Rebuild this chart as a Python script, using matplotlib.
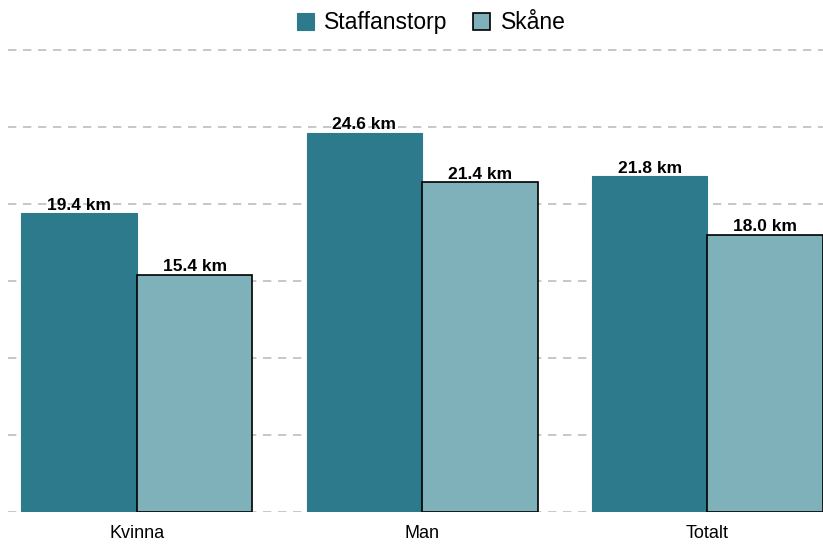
import matplotlib.pyplot as plt
import numpy as np

plt.rcParams["font.family"] = ["Liberation Sans", "DejaVu Sans"]

categories = ["Kvinna", "Man", "Totalt"]
staffanstorp = [19.4, 24.6, 21.8]
skane = [15.4, 21.4, 18.0]
series_names = ["Staffanstorp", "Skåne"]
y_grid = [0, 5, 10, 15, 20, 25, 30]

col_staff = "#2e7a8d"
col_skane = "#7fb1ba"

fig = plt.figure(figsize=(8.23, 5.44), dpi=100)
ax = fig.add_axes([0.0097, 0.0588, 0.9903, 0.852])

x = np.arange(len(categories))
w = 0.405

b1 = ax.bar(x - w / 2, staffanstorp, w, color=col_staff, edgecolor=col_staff,
            linewidth=0.8, label=series_names[0], zorder=3)
b2 = ax.bar(x + w / 2, skane, w, color=col_skane, edgecolor="black",
            linewidth=1.2, label=series_names[1], zorder=3)

for bars, vals in [(b1, staffanstorp), (b2, skane)]:
    for rect, v in zip(bars, vals):
        ax.text(rect.get_x() + rect.get_width() / 2, v + 0.05, f"{v:.1f} km",
                ha="center", va="bottom", fontsize=12.5, fontweight="bold",
                zorder=4)

for g in y_grid:
    ax.axhline(g, color="#bdbdbd", linewidth=1.2, linestyle=(0, (5, 4)), zorder=1)

ax.set_xlim(-0.452, 2.405)
ax.set_ylim(0, 30.1)
ax.set_xticks(x)
ax.set_xticklabels(categories, fontsize=13)
ax.tick_params(axis="x", length=0, pad=9)
ax.set_yticks([])
for s in ax.spines.values():
    s.set_visible(False)

fig.legend(handles=[b1, b2], labels=series_names, loc="center",
           bbox_to_anchor=(0.524, 0.958), ncol=2, frameon=False, fontsize=16.5,
           handlelength=0.75, handleheight=0.75, handletextpad=0.45,
           columnspacing=1.1)

fig.savefig("out.png", dpi=100)
